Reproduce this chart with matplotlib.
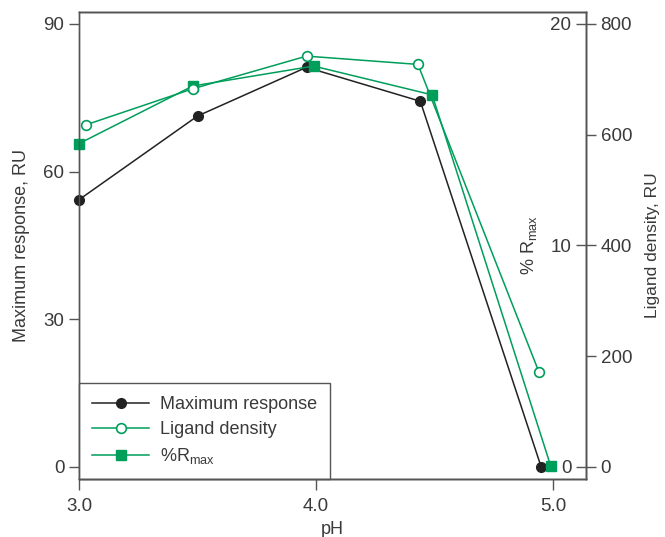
import matplotlib
matplotlib.use("Agg")
import matplotlib.pyplot as plt

plt.rcParams['font.family'] = ['Liberation Sans', 'DejaVu Sans']
plt.rcParams['mathtext.default'] = 'regular'
plt.rcParams['font.size'] = 13

# data
ph_max = [3.0, 3.50, 3.96, 4.44, 4.95]
max_response = [54.3, 71.3, 81.2, 74.3, 0.0]

ph_lig = [3.03, 3.48, 3.96, 4.43, 4.94]
ligand_density = [618, 683, 742, 727, 172]

ph_rmax = [3.0, 3.48, 3.99, 4.49, 4.99]
rmax_pct = [14.6, 17.2, 18.1, 16.8, 0.05]

green = '#009E5B'
text_c = '#3a3a3a'
spine_c = '#555555'

fig = plt.figure(figsize=(6.65, 5.37), dpi=100)
ax = fig.add_axes([0.1188, 0.108, 0.7624, 0.8697])
ax2 = ax.twinx()
ax3 = ax.twinx()

ax.set_xlim(3.0, 5.139)
ax.set_ylim(-2.44, 92.44)
ax2.set_ylim(-2.44 * 20 / 90, 92.44 * 20 / 90)
ax3.set_ylim(-2.44 * 800 / 90, 92.44 * 800 / 90)

l1, = ax.plot(ph_max, max_response, color='#222222', lw=1.1, marker='o',
              ms=7, mfc='#222222', mec='#222222', clip_on=False, zorder=3,
              label='Maximum response')
l2, = ax3.plot(ph_lig, ligand_density, color=green, lw=1.1, marker='o',
               ms=7, mfc='white', mec=green, mew=1.2, clip_on=False, zorder=3,
               label='Ligand density')
l3, = ax2.plot(ph_rmax, rmax_pct, color=green, lw=1.1, marker='s',
               ms=7.5, mfc=green, mec=green, clip_on=False, zorder=3,
               label='%R$_{max}$')

ax.set_xticks([3.0, 4.0, 5.0])
ax.set_xticklabels(['3.0', '4.0', '5.0'])
ax.set_yticks([0, 30, 60, 90])
ax.set_xlabel('pH', color=text_c, labelpad=4, fontsize=13)
ax.set_ylabel('Maximum response, RU', color=text_c, labelpad=10, fontsize=13)

# %Rmax axis: spine at the right edge, ticks and labels on its inner side
ax2.spines['left'].set_position(('axes', 1.0))
ax2.spines['left'].set_visible(False)
ax2.yaxis.set_ticks_position('left')
ax2.yaxis.set_label_position('left')
ax2.set_yticks([0, 10, 20])
ax2.set_ylabel('% R$_{max}$', color=text_c, labelpad=8, fontsize=13)

ax3.set_yticks([0, 200, 400, 600, 800])
ax3.set_ylabel('Ligand density, RU', color=text_c, labelpad=9, fontsize=12.5)

for a in (ax, ax2, ax3):
    for s in a.spines.values():
        s.set_color(spine_c)
        s.set_linewidth(1.0)
    a.tick_params(colors=spine_c, labelcolor=text_c, labelsize=13.5,
                  length=7, width=1.0)
ax.tick_params(axis='x', length=8, pad=6)

leg = ax.legend(handles=[l1, l2, l3], loc='lower left',
                bbox_to_anchor=(0, 0), borderaxespad=0, fontsize=13,
                handlelength=3.2, handletextpad=0.6, labelspacing=0.45,
                borderpad=0.7, fancybox=False, framealpha=1)
leg.get_frame().set_edgecolor(spine_c)
leg.get_frame().set_linewidth(1.0)
for t in leg.get_texts():
    t.set_color(text_c)
leg.set_zorder(5)

fig.savefig('out.png', dpi=100)
